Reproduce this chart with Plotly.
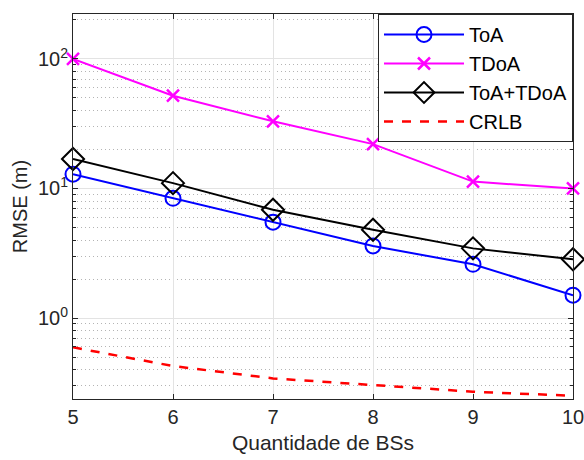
import plotly.graph_objects as go

bs = [5, 6, 7, 8, 9, 10]
toa = [12.9, 8.4, 5.5, 3.6, 2.6, 1.5]
tdoa = [100, 52, 33, 22, 11.3, 10.0]
toa_tdoa = [16.9, 11.0, 6.85, 4.8, 3.45, 2.84]
crlb = [0.594, 0.426, 0.342, 0.304, 0.27, 0.251]

ytickvals = [1, 10, 100]
yticktext = ["10<sup>0</sup>", "10<sup>1</sup>", "10<sup>2</sup>"]

FONT = "Liberation Sans, Arial, sans-serif"

fig = go.Figure()
fig.add_trace(go.Scatter(x=bs, y=toa, name="ToA", mode="lines+markers", cliponaxis=False,
                         line=dict(color="#0000FF", width=2),
                         marker=dict(symbol="circle-open", size=15, color="#0000FF", line=dict(width=2))))
fig.add_trace(go.Scatter(x=bs, y=tdoa, name="TDoA", mode="lines+markers", cliponaxis=False,
                         line=dict(color="#FF00FF", width=2),
                         marker=dict(symbol="x-thin-open", size=12, color="#FF00FF", line=dict(width=2.5, color="#FF00FF"))))
fig.add_trace(go.Scatter(x=bs, y=toa_tdoa, name="ToA+TDoA", mode="lines+markers", cliponaxis=False,
                         line=dict(color="#000000", width=2),
                         marker=dict(symbol="diamond-open", size=17, color="#000000", line=dict(width=2))))
fig.add_trace(go.Scatter(x=bs, y=crlb, name="CRLB", mode="lines",
                         line=dict(color="#FF0000", width=2.5, dash="dash")))

axis_common = dict(showline=True, linecolor="#262626", linewidth=1, mirror="ticks",
                   ticks="inside", tickcolor="#262626", ticklen=5,
                   gridcolor="#e3e3e3", gridwidth=1, zeroline=False, automargin=False,
                   ticklabeloverflow="allow",
                   tickfont=dict(family=FONT, size=20, color="#262626"))

fig.update_xaxes(range=[5, 10], dtick=1, tick0=5,
                 title=dict(text="Quantidade de BSs", font=dict(family=FONT, size=21, color="#262626"), standoff=8),
                 **axis_common)
fig.update_yaxes(type="log", range=[-0.625, 2.347], tickvals=ytickvals, ticktext=yticktext,
                 title=dict(text="RMSE (m)", font=dict(family=FONT, size=20, color="#262626"), standoff=4),
                 minor=dict(dtick="D1", showgrid=True, griddash="1px,3px", gridcolor="#b4b4b4",
                            ticks="inside", ticklen=3, tickcolor="#262626"),
                 **axis_common)

fig.update_layout(
    width=584, height=460,
    margin=dict(l=73, r=11, t=14, b=61),
    plot_bgcolor="white", paper_bgcolor="white",
    font=dict(family=FONT, color="#262626"),
    legend=dict(x=1, y=1, xanchor="right", yanchor="top",
                bgcolor="white", bordercolor="#262626", borderwidth=1,
                font=dict(family=FONT, size=20, color="#000000"),
                itemwidth=80, tracegroupgap=0),
    showlegend=True,
)

post = """
document.documentElement.style.margin='0';
document.documentElement.style.overflow='hidden';
document.body.style.margin='0';
document.body.style.overflow='hidden';
"""

fig.write_html("out.html", post_script=post, config={"displayModeBar": False})
